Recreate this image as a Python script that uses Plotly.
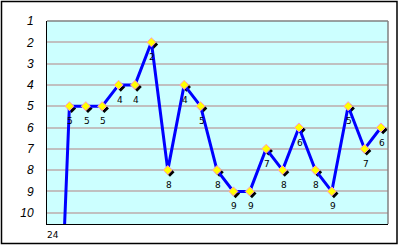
import plotly.graph_objects as go

categories = list(range(21))
values = [24, 5, 5, 5, 4, 4, 2, 8, 4, 5, 8, 9, 9, 7, 8, 6, 8, 9, 5, 7, 6]
labels = [str(v) for v in values]
y_ticks = list(range(1, 11))

W, H = 400, 245
ml, mr, mt, mb = 47, 12, 21, 21
pw, ph = W - ml - mr, H - mt - mb
ymin, ymax = 1, 10.53
xr = [-0.366, 20.43]
xpx = pw / (xr[1] - xr[0])
ypx = ph / (ymax - ymin)
sh = 2.2

in_range = [v <= ymax for v in values]
vx = [c for c, ok in zip(categories, in_range) if ok]
vy = [v for v, ok in zip(values, in_range) if ok]

lab_font = dict(family="DejaVu Sans", size=9, color="black")

fig = go.Figure()
# shadow markers on base axes with shifted ranges
fig.add_trace(go.Scatter(x=vx, y=vy, mode="markers", xaxis="x", yaxis="y",
                         marker=dict(symbol="diamond", size=7, color="black",
                                     line=dict(width=0)),
                         hoverinfo="skip", showlegend=False))
fig.add_trace(go.Scatter(x=categories, y=values, mode="lines",
                         xaxis="x2", yaxis="y2",
                         line=dict(color="#0000FF", width=3),
                         showlegend=False))
fig.add_trace(go.Scatter(x=vx, y=vy, mode="markers",
                         xaxis="x2", yaxis="y2",
                         marker=dict(symbol="diamond", size=7, color="#FFFF00",
                                     line=dict(width=1, color="#FF99CC")),
                         cliponaxis=False, showlegend=False))

for c, v, t, ok in zip(categories, values, labels, in_range):
    if ok:
        fig.add_annotation(x=c, y=v, xref="x2", yref="y2", text=t,
                           showarrow=False, yanchor="middle", xshift=1,
                           yshift=-15, font=lab_font)
    else:
        fig.add_annotation(x=c, y=0, xref="x2", yref="paper", text=t,
                           showarrow=False, yanchor="top", yshift=-4,
                           font=lab_font)

fig.update_layout(
    width=W, height=H,
    margin=dict(l=ml, r=mr, t=mt, b=mb),
    paper_bgcolor="white",
    plot_bgcolor="#CCFFFF",
    xaxis=dict(range=[xr[0] - sh / xpx, xr[1] - sh / xpx], visible=False,
               fixedrange=True),
    yaxis=dict(range=[ymax - sh / ypx, ymin - sh / ypx], visible=False,
               fixedrange=True),
    xaxis2=dict(range=xr, overlaying="x", showgrid=False, showticklabels=False,
                zeroline=False, showline=True, linecolor="black", linewidth=1,
                side="bottom", fixedrange=True),
    yaxis2=dict(range=[ymax, ymin], overlaying="y", side="left",
                tickvals=y_ticks, showgrid=True,
                gridcolor="#C0C0C0", gridwidth=1.5, zeroline=False,
                showline=True, linecolor="black", linewidth=1,
                tickfont=dict(family="Liberation Sans", size=12, color="black",
                              style="italic"),
                ticks="", ticklabelstandoff=10, fixedrange=True),
    shapes=[
        dict(type="line", xref="paper", yref="paper", x0=0, x1=1, y0=1, y1=1,
             line=dict(color="#808080", width=1.5)),
        dict(type="line", xref="paper", yref="paper", x0=1, x1=1, y0=0, y1=1,
             line=dict(color="#808080", width=1.5)),
        dict(type="rect", xref="paper", yref="paper",
             x0=-(ml - 1.5) / pw, x1=1 + (mr - 3) / pw,
             y0=-(mb - 1.5) / ph, y1=1 + (mt - 1.5) / ph,
             line=dict(color="black", width=1.5), layer="below"),
    ],
)
fig.write_html("out.html")
